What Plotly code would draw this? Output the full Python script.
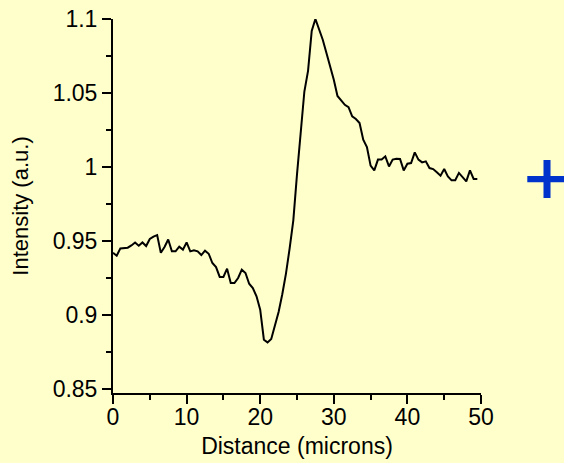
import plotly.graph_objects as go

distance = [0.0, 0.5, 1.0, 1.5, 2.0, 2.5, 3.0, 3.5, 4.0, 4.5,
            5.0, 5.5, 6.0, 6.5, 7.0, 7.5, 8.0, 8.5, 9.0, 9.5,
            10.0, 10.5, 11.0, 11.5, 12.0, 12.5, 13.0, 13.5, 14.0, 14.5,
            15.0, 15.5, 16.0, 16.5, 17.0, 17.5, 18.0, 18.5, 19.0, 19.5,
            20.0, 20.5, 21.0, 21.5, 22.0, 22.5, 23.0, 23.5, 24.0, 24.5,
            25.0, 25.5, 26.0, 26.5, 27.0, 27.5, 28.0, 28.5, 29.0, 29.5,
            30.0, 30.5, 31.0, 31.5, 32.0, 32.5, 33.0, 33.5, 34.0, 34.5,
            35.0, 35.5, 36.0, 36.5, 37.0, 37.5, 38.0, 38.5, 39.0, 39.5,
            40.0, 40.5, 41.0, 41.5, 42.0, 42.5, 43.0, 43.5, 44.0, 44.5,
            45.0, 45.5, 46.0, 46.5, 47.0, 47.5, 48.0, 48.5, 49.0, 49.5]

intensity = [0.942, 0.940, 0.945, 0.945, 0.9455, 0.947, 0.949, 0.9468, 0.949, 0.9466,
             0.9514, 0.953, 0.954, 0.942, 0.946, 0.951, 0.943, 0.943, 0.9462, 0.9442,
             0.949, 0.943, 0.9437, 0.943, 0.9405, 0.9435, 0.9414, 0.9351, 0.9324, 0.9257,
             0.9257, 0.9313, 0.9216, 0.9216, 0.925, 0.9306, 0.9284, 0.9211, 0.9182, 0.9126,
             0.9036, 0.8833, 0.8815, 0.8838, 0.893, 0.902, 0.914, 0.928, 0.945, 0.964,
             0.995, 1.025, 1.051, 1.065, 1.092, 1.100, 1.093, 1.086, 1.077, 1.068,
             1.059, 1.048, 1.045, 1.042, 1.0405, 1.0342, 1.0324, 1.0297, 1.0185, 1.0135,
             1.0009, 0.9977, 1.005, 1.005, 1.0072, 1.0004, 1.005, 1.0056, 1.0054, 0.9977,
             1.0022, 1.0027, 1.0099, 1.005, 1.0031, 1.0038, 0.9993, 0.9986, 0.9964, 0.9941,
             0.9986, 0.9937, 0.991, 0.991, 0.996, 0.9932, 0.9903, 0.9977, 0.9919, 0.9919]

x_ticks = [0, 10, 20, 30, 40, 50]
y_ticks = [0.85, 0.9, 0.95, 1.0, 1.05, 1.1]
y_labels = ["0.85", "0.9", "0.95", "1", "1.05", "1.1"]

BG = "#FFFFCC"
FONT = "Liberation Sans, Arial, sans-serif"

fig = go.Figure()
fig.add_trace(go.Scatter(x=distance, y=intensity, mode="lines",
                         line=dict(color="black", width=2), showlegend=False,
                         hoverinfo="skip"))

axis_common = dict(showline=True, linecolor="black", linewidth=2,
                   ticks="outside", tickwidth=2, ticklen=9, tickcolor="black",
                   showgrid=False, zeroline=False, automargin=False,
                   tickfont=dict(family=FONT, size=23, color="black"))

fig.update_xaxes(range=[0, 50], tickmode="array", tickvals=x_ticks,
                 ticklabelstandoff=-7,
                 minor=dict(ticks="outside", ticklen=5, tickwidth=2, dtick=5,
                            tick0=0, tickcolor="black", showgrid=False),
                 title=dict(text="Distance (microns)", standoff=9,
                            font=dict(family=FONT, size=23, color="black")),
                 **axis_common)
fig.update_yaxes(range=[0.8473, 1.1], tickmode="array", tickvals=y_ticks,
                 ticktext=y_labels,
                 minor=dict(ticks="outside", ticklen=5, tickwidth=2, dtick=0.025,
                            tick0=0.85, tickcolor="black", showgrid=False),
                 title=dict(text="Intensity (a.u.)", standoff=18,
                            font=dict(family=FONT, size=22, color="black")),
                 **axis_common)

blue = "#0033CC"
fig.add_shape(type="rect", xref="paper", yref="paper",
              x0=1.1698, x1=1.1889, y0=0.5214, y1=0.623,
              fillcolor=blue, line=dict(width=0))
fig.add_shape(type="rect", xref="paper", yref="paper",
              x0=1.1258, x1=1.2337, y0=0.5634, y1=0.5802,
              fillcolor=blue, line=dict(width=0))

fig.update_layout(width=564, height=463, autosize=False,
                  margin=dict(l=113, r=83, t=19, b=70),
                  paper_bgcolor=BG, plot_bgcolor=BG,
                  font=dict(family=FONT, color="black"))

fig.write_html("out.html")
